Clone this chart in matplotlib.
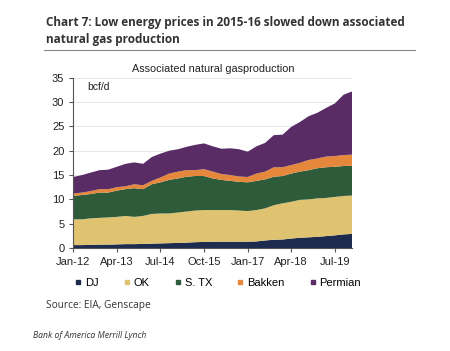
import matplotlib
matplotlib.use("Agg")
import matplotlib.pyplot as plt
import matplotlib.dates as mdates
from matplotlib.lines import Line2D
import pandas as pd

# quarterly readings, Jan-12 .. Jan-20 (bcf/d)
dates = pd.date_range("2012-01-01", "2020-01-01", freq="QS")
dj = [0.6, 0.6, 0.65, 0.7, 0.7, 0.75, 0.8, 0.8, 0.85, 0.9, 0.95,
      1.0, 1.05, 1.1, 1.2, 1.25, 1.3, 1.3, 1.3, 1.3, 1.3,
      1.35, 1.55, 1.7, 1.75, 1.95, 2.1, 2.2, 2.3, 2.45, 2.6, 2.8, 2.9]
ok = [5.3, 5.3, 5.45, 5.5, 5.6, 5.65, 5.8, 5.6, 5.75, 6.1, 6.15,
      6.1, 6.25, 6.4, 6.5, 6.55, 6.5, 6.5, 6.5, 6.4, 6.3,
      6.45, 6.6, 7.1, 7.45, 7.55, 7.8, 7.8, 7.9, 7.85, 7.9, 7.9, 7.9]
stx = [4.8, 5.0, 5.0, 5.2, 5.1, 5.4, 5.5, 5.9, 5.5, 6.1, 6.4,
       6.9, 7.0, 7.15, 7.1, 7.0, 6.5, 6.2, 6.0, 5.9, 5.9,
       6.0, 5.95, 5.85, 5.6, 5.8, 5.8, 6.0, 6.2, 6.3, 6.2, 6.15, 6.1]
bakken = [0.5, 0.5, 0.6, 0.7, 0.7, 0.7, 0.6, 0.8, 0.8, 0.7, 1.0,
          1.3, 1.4, 1.35, 1.2, 1.4, 1.4, 1.2, 1.2, 1.1, 1.1,
          1.5, 1.6, 1.95, 1.8, 1.75, 1.8, 2.1, 2.0, 2.2, 2.2, 2.25, 2.3]
permian = [3.4, 3.6, 3.8, 3.9, 4.0, 4.2, 4.6, 4.5, 4.4, 4.9, 4.9,
           4.7, 4.6, 4.8, 5.2, 5.3, 5.2, 5.2, 5.5, 5.6, 5.2,
           5.6, 5.9, 6.6, 6.7, 7.85, 8.4, 9.0, 9.4, 10.0, 10.8, 12.4, 13.0]

names = ["DJ", "OK", "S. TX", "Bakken", "Permian"]
colors = ["#1d2b4e", "#dfc371", "#2e5b3a", "#e5883b", "#5a2c66"]

font = "Liberation Sans"

fig = plt.figure(figsize=(4.5, 3.51), dpi=100)
ax = fig.add_axes([0.163, 0.2934, 0.62, 0.4852])

ax.stackplot(dates, dj, ok, stx, bakken, permian, colors=colors, linewidth=0)

ax.set_ylim(0, 35)
ax.set_yticks(range(0, 36, 5))
ax.set_xlim(dates[0], dates[-1])
ax.set_xticks(pd.date_range("2012-01-01", "2019-07-01", freq="15MS"))
ax.xaxis.set_major_formatter(mdates.DateFormatter("%b-%y"))
ax.grid(axis="y", color="#e4e4e4", linewidth=0.6)
ax.set_axisbelow(True)
for s in ["top", "right"]:
    ax.spines[s].set_visible(False)
for s in ["left", "bottom"]:
    ax.spines[s].set_color("#555555")
    ax.spines[s].set_linewidth(0.8)
ax.tick_params(axis="both", length=3, width=0.8, color="#555555",
               labelsize=8, labelcolor="#222222")
for lab in ax.get_xticklabels() + ax.get_yticklabels():
    lab.set_fontfamily(font)

ax.text(0.05, 0.945, "bcf/d", transform=ax.transAxes, fontsize=7.5,
        family=font, color="#222222", va="center")
ax.set_title("Associated natural gasproduction", fontsize=7.8, family=font,
             color="#222222", pad=4)

handles = [Line2D([], [], marker="s", linestyle="none", markersize=3.5,
                  color=c) for c in colors]
fig.legend(handles, names, loc="center", bbox_to_anchor=(0.485, 0.193),
           ncol=5, frameon=False, handlelength=0.5, handletextpad=0.35,
           columnspacing=2.3, prop={"family": font, "size": 8})

fig.text(0.102, 0.955, "Chart 7: Low energy prices in 2015-16 slowed down associated\nnatural gas production",
         fontsize=8.5, weight="bold", family="Open Sans", color="#333333",
         va="top", linespacing=1.45)
fig.add_artist(Line2D([0.098, 0.922], [0.858, 0.858], color="#888888",
                      linewidth=0.8))
fig.text(0.102, 0.13, "Source: EIA, Genscape", fontsize=7.3,
         family="Open Sans", color="#333333", va="center")
fig.text(0.073, 0.045, "Bank of America Merrill Lynch", fontsize=6.2,
         family="Open Sans", style="italic", color="#333333", va="center")

fig.savefig("out.png", dpi=100)
